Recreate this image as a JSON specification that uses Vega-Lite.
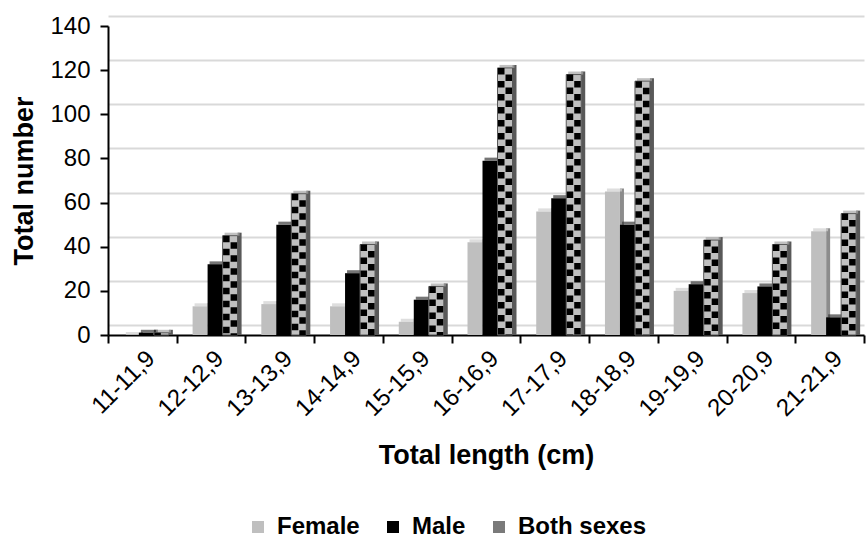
{
  "$schema": "https://vega.github.io/schema/vega-lite/v6.json",
  "width": 756,
  "height": 309,
  "autosize": {"type": "none"},
  "padding": {"left": 108, "top": 26, "right": 4, "bottom": 203},
  "background": "white",
  "config": {"font": "Liberation Sans", "view": {"stroke": null}},
  "data": {"values": [
    {"len": "11-11,9", "sex": "Female", "n": 0},
    {"len": "11-11,9", "sex": "Male", "n": 1},
    {"len": "11-11,9", "sex": "Both sexes", "n": 1},
    {"len": "12-12,9", "sex": "Female", "n": 13},
    {"len": "12-12,9", "sex": "Male", "n": 32},
    {"len": "12-12,9", "sex": "Both sexes", "n": 45},
    {"len": "13-13,9", "sex": "Female", "n": 14},
    {"len": "13-13,9", "sex": "Male", "n": 50},
    {"len": "13-13,9", "sex": "Both sexes", "n": 64},
    {"len": "14-14,9", "sex": "Female", "n": 13},
    {"len": "14-14,9", "sex": "Male", "n": 28},
    {"len": "14-14,9", "sex": "Both sexes", "n": 41},
    {"len": "15-15,9", "sex": "Female", "n": 6},
    {"len": "15-15,9", "sex": "Male", "n": 16},
    {"len": "15-15,9", "sex": "Both sexes", "n": 22},
    {"len": "16-16,9", "sex": "Female", "n": 42},
    {"len": "16-16,9", "sex": "Male", "n": 79},
    {"len": "16-16,9", "sex": "Both sexes", "n": 121},
    {"len": "17-17,9", "sex": "Female", "n": 56},
    {"len": "17-17,9", "sex": "Male", "n": 62},
    {"len": "17-17,9", "sex": "Both sexes", "n": 118},
    {"len": "18-18,9", "sex": "Female", "n": 65},
    {"len": "18-18,9", "sex": "Male", "n": 50},
    {"len": "18-18,9", "sex": "Both sexes", "n": 115},
    {"len": "19-19,9", "sex": "Female", "n": 20},
    {"len": "19-19,9", "sex": "Male", "n": 23},
    {"len": "19-19,9", "sex": "Both sexes", "n": 43},
    {"len": "20-20,9", "sex": "Female", "n": 19},
    {"len": "20-20,9", "sex": "Male", "n": 22},
    {"len": "20-20,9", "sex": "Both sexes", "n": 41},
    {"len": "21-21,9", "sex": "Female", "n": 47},
    {"len": "21-21,9", "sex": "Male", "n": 8},
    {"len": "21-21,9", "sex": "Both sexes", "n": 55}
  ]},
  "layer": [
    {
      "transform": [{"filter": "datum.sex === 'Both sexes'"}],
      "mark": {"type": "rule", "opacity": 0},
      "encoding": {
        "y": {
          "field": "n", "type": "quantitative",
          "scale": {"domain": [0, 140], "range": [299, -10], "nice": false, "zero": false},
          "axis": {"orient": "right", "grid": true, "gridColor": "#d9d9d9", "gridWidth": 2, "labels": false, "ticks": false, "domain": false, "title": null, "values": [0, 20, 40, 60, 80, 100, 120, 140], "zindex": 0}
        }
      }
    },
    {
      "encoding": {
        "x": {
          "field": "len", "type": "nominal", "sort": null,
          "scale": {"paddingInner": 0, "paddingOuter": 0},
          "axis": {"title": "Total length (cm)", "labelAngle": -45, "labelAlign": "right", "labelBaseline": "top", "labelFontSize": 24, "labelColor": "#000", "labelPadding": 3, "tickBand": "extent", "tickSize": 8, "tickWidth": 2, "tickColor": "#000", "domainColor": "#000", "domainWidth": 2, "titleFontSize": 27, "titleFontWeight": "bold", "titleColor": "#000", "titlePadding": 22, "grid": false}
        },
        "y": {
          "field": "n", "type": "quantitative", "stack": null,
          "scale": {"domain": [0, 140], "nice": false},
          "axis": {"title": "Total number", "values": [0, 20, 40, 60, 80, 100, 120, 140], "grid": false, "tickSize": 8, "tickWidth": 2, "tickColor": "#000", "domainColor": "#000", "domainWidth": 2, "labelFontSize": 24, "labelColor": "#000", "labelPadding": 10, "titleFontSize": 27, "titleFontWeight": "bold", "titleColor": "#000", "titlePadding": 11}
        }
      },
      "layer": [
        {
          "transform": [{"filter": "datum.sex === 'Female'"}],
          "mark": {"type": "bar", "width": 4, "xOffset": -1.5, "yOffset": -3, "color": "#8c8c8c"}
        },
        {
          "transform": [{"filter": "datum.sex === 'Female'"}],
          "mark": {"type": "tick", "size": 15, "thickness": 3, "xOffset": -9, "yOffset": -1.5, "color": "#d0d0d0"}
        },
        {
          "transform": [{"filter": "datum.sex === 'Female'"}],
          "mark": {"type": "bar", "width": 15, "xOffset": -11},
          "encoding": {
            "color": {
              "field": "sex", "type": "nominal",
              "scale": {"domain": ["Female", "Male", "Both sexes"], "range": ["#bfbfbf", "#000000", "#7a7a7a"]},
              "legend": {"orient": "none", "legendX": 138, "legendY": 489, "direction": "horizontal", "title": null, "symbolType": "square", "symbolSize": 144, "symbolStrokeWidth": 0, "labelFontSize": 24, "labelFontWeight": "bold", "labelColor": "#000", "labelOffset": 7, "columnPadding": 21, "padding": 0}
            }
          }
        },
        {
          "transform": [{"filter": "datum.sex === 'Male'"}],
          "mark": {"type": "bar", "width": 4, "xOffset": 13.5, "yOffset": -3, "color": "#1a1a1a"}
        },
        {
          "transform": [{"filter": "datum.sex === 'Male'"}],
          "mark": {"type": "tick", "size": 15, "thickness": 3, "xOffset": 6, "yOffset": -1.5, "color": "#3a3a3a"}
        },
        {
          "transform": [{"filter": "datum.sex === 'Male'"}],
          "mark": {"type": "bar", "width": 15, "xOffset": 4},
          "encoding": {
            "color": {
              "field": "sex", "type": "nominal",
              "scale": {"domain": ["Female", "Male", "Both sexes"], "range": ["#bfbfbf", "#000000", "#7a7a7a"]}
            }
          }
        },
        {
          "transform": [{"filter": "datum.sex === 'Both sexes'"}],
          "mark": {"type": "bar", "width": 4, "xOffset": 28.5, "yOffset": -3, "color": "#595959"}
        },
        {
          "transform": [{"filter": "datum.sex === 'Both sexes'"}],
          "mark": {"type": "tick", "size": 15, "thickness": 3, "xOffset": 21, "yOffset": -1.5, "color": "#a6a6a6"}
        },
        {
          "transform": [{"filter": "datum.sex === 'Both sexes'"}],
          "mark": {"type": "bar", "width": 15, "xOffset": 19, "fill": "#c0c0c0", "stroke": "#595959", "strokeWidth": 1}
        },
        {
          "transform": [{"filter": "datum.sex === 'Both sexes'"}],
          "mark": {"type": "rule", "xOffset": 15.25, "strokeWidth": 6.5, "color": "#000000", "strokeDash": [6.5, 6.5], "strokeDashOffset": 0},
          "encoding": {"y2": {"datum": 0}}
        },
        {
          "transform": [{"filter": "datum.sex === 'Both sexes'"}],
          "mark": {"type": "rule", "xOffset": 22.75, "strokeWidth": 6.5, "color": "#000000", "strokeDash": [6.5, 6.5], "strokeDashOffset": 6.5},
          "encoding": {"y2": {"datum": 0}}
        }
      ]
    }
  ],
  "resolve": {"scale": {"y": "independent"}, "axis": {"y": "independent"}}
}
